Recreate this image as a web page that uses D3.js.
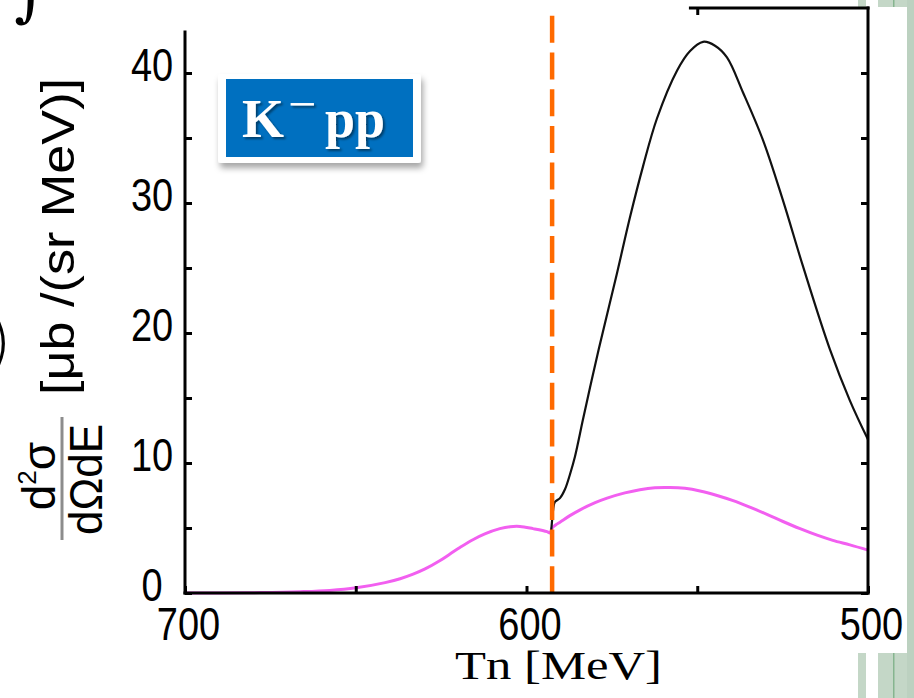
<!DOCTYPE html>
<html>
<head>
<meta charset="utf-8">
<script src="https://cdn.jsdelivr.net/npm/d3@7"></script>
<style>
  html, body { margin: 0; padding: 0; background: #fff; }
  svg { display: block; }
</style>
</head>
<body>
<svg id="chart" width="914" height="698"></svg>
<script>
// magenta curve (Tn in MeV, d2sigma in ub/(sr MeV))
const tnMagenta = [700, 689.8, 678.0, 666.3, 657.6, 649.9, 641.4, 637.0, 633.2, 629.7, 625.3, 622.4, 619.5, 615.7, 612.2,
  607.8, 604.8, 601.9, 598.1, 594.0, 593.1, 592.5, 591.4, 590.2, 587.3, 584.3, 579.9, 576.4, 571.2, 566.8, 562.4,
  558.0, 553.6, 549.2, 544.2, 539.5, 534.6, 529.6, 524.9, 519.9, 514.9, 510.3, 505.3, 500];
const dsMagenta = [0, 0, 0.03, 0.1, 0.2, 0.4, 0.8, 1.1, 1.45, 1.85, 2.5, 3.0, 3.5, 4.1, 4.55,
  4.95, 5.1, 5.12, 4.95, 4.72, 4.62, 5.0, 5.25, 5.45, 5.95, 6.4, 6.95, 7.3, 7.7, 7.95, 8.1,
  8.12, 8.05, 7.85, 7.5, 7.1, 6.6, 6.05, 5.5, 4.95, 4.45, 4.05, 3.7, 3.3];

// black curve, starts at the threshold
const tnBlack = [592.8, 592.5, 592.2, 591.7, 590.2, 588.7, 587.3, 585.8, 583.5, 581.4, 578.8, 573.5, 569.7, 565.9,
  561.8, 555.9, 552.1, 548.3, 544.8, 541.3, 536.6, 530.7, 524.9, 519.0, 511.1, 505.3, 500];
const dsBlack = [4.7, 5.6, 6.4, 7.0, 7.3, 8.0, 9.1, 10.5, 13.3, 15.8, 18.8, 24.6, 28.9, 32.8,
  36.5, 40.2, 41.7, 42.4, 42.1, 41.2, 38.5, 34.8, 30.2, 25.1, 18.7, 14.8, 11.8];

const xTickLabels = [700, 600, 500];
const xMinorTicks = [650, 550];
const xTopTicks = [550];
const yTickLabels = [0, 10, 20, 30, 40];
const yMinorTicks = [5, 15, 25, 35];
const thresholdTn = 592.5;

const xDomain = [700, 500];
const yDomain = [0, 45];
const leftAxisTop = 43.15;   // left spine is cut off above this value
const topSpineStart = 552;   // top spine only visible from here
const dashTop = 44.4;

const svg = d3.select('#chart');

// slide background pieces around the pasted plot
const bg = svg.append('g');
[[858, 866], [878, 907]].forEach(([a, b]) => {
  bg.append('rect').attr('x', a).attr('y', 0).attr('width', b - a).attr('height', 698).attr('fill', '#c4d7c7');
});
bg.append('rect').attr('x', 893).attr('y', 0).attr('width', 1.5).attr('height', 698).attr('fill', '#86b58f');
bg.append('rect').attr('x', 0).attr('y', 7).attr('width', 907).attr('height', 646).attr('fill', '#fff');
bg.append('rect').attr('x', 907).attr('y', 0).attr('width', 7).attr('height', 698).attr('fill', '#bcd1c0');

// leftovers from the slide
svg.append('text').attr('x', 14).attr('y', 14)
  .attr('font-family', 'DejaVu Serif').attr('font-style', 'italic').attr('font-size', 64)
  .text('∫');
svg.append('text').attr('x', -14).attr('y', 364)
  .attr('font-family', 'DejaVu Sans').attr('font-weight', 200).attr('font-size', 66)
  .text(')');

const x = d3.scaleLinear().domain(xDomain).range([185, 868]);
const y = d3.scaleLinear().domain(yDomain).range([593, 8]);

const defs = svg.append('defs');
defs.append('filter').attr('id', 'boxShadow').attr('x', '-20%').attr('y', '-20%').attr('width', '140%').attr('height', '160%')
  .append('feDropShadow').attr('dx', 2).attr('dy', 5).attr('stdDeviation', 3).attr('flood-color', '#000').attr('flood-opacity', 0.35);
defs.append('filter').attr('id', 'textShadow').attr('x', '-20%').attr('y', '-20%').attr('width', '140%').attr('height', '160%')
  .append('feDropShadow').attr('dx', 2).attr('dy', 2).attr('stdDeviation', 1).attr('flood-color', '#000').attr('flood-opacity', 0.45);

// curves
const line = d3.line().x((d) => x(d[0])).y((d) => y(d[1])).curve(d3.curveCatmullRom.alpha(0.5));

svg.append('path')
  .datum(d3.zip(tnMagenta, dsMagenta))
  .attr('d', line)
  .attr('fill', 'none')
  .attr('stroke', '#f25ff0')
  .attr('stroke-width', 3);

svg.append('path')
  .datum(d3.zip(tnBlack, dsBlack))
  .attr('d', line)
  .attr('fill', 'none')
  .attr('stroke', '#111')
  .attr('stroke-width', 2.2);

// threshold
svg.append('line')
  .attr('x1', x(thresholdTn)).attr('x2', x(thresholdTn))
  .attr('y1', y(dashTop)).attr('y2', y(0))
  .attr('stroke', '#ff6a00')
  .attr('stroke-width', 4.5)
  .attr('stroke-dasharray', '27 9.7');

// axes
const tickFont = (sel) => sel.attr('font-family', 'Liberation Sans, Arial, sans-serif').attr('font-size', 38).attr('fill', '#000');

const yAxis = svg.append('g')
  .attr('transform', `translate(${x(xDomain[0])},0)`)
  .call(d3.axisLeft(y).tickValues(yTickLabels.concat(yMinorTicks)).tickSize(-7)
    .tickFormat((d) => (yTickLabels.includes(d) ? d : '')));
yAxis.select('.domain').remove();
yAxis.selectAll('.tick line').attr('stroke', '#000').attr('stroke-width', 3);
yAxis.selectAll('.tick text').call(tickFont)
  .attr('text-anchor', 'middle').attr('x', -33).attr('dy', 0).attr('y', 6.25)
  .attr('transform', 'scale(1,1.2)');

const yRight = svg.append('g')
  .attr('transform', `translate(${x(xDomain[1])},0)`)
  .call(d3.axisRight(y).tickValues(yTickLabels.concat(yMinorTicks)).tickSize(-7).tickFormat(''));
yRight.select('.domain').remove();
yRight.selectAll('.tick line').attr('stroke', '#000').attr('stroke-width', 3);

const xAxis = svg.append('g')
  .attr('transform', `translate(0,${y(0)})`)
  .call(d3.axisBottom(x).tickValues(xTickLabels.concat(xMinorTicks)).tickSize(-7)
    .tickFormat((d) => (xTickLabels.includes(d) ? d : '')));
xAxis.select('.domain').remove();
xAxis.selectAll('.tick line').attr('stroke', '#000').attr('stroke-width', 3);
xAxis.selectAll('.tick text').call(tickFont)
  .attr('text-anchor', 'middle').attr('x', 3).attr('dy', 0).attr('y', 39.2)
  .attr('transform', 'scale(1,1.2)');

const xTop = svg.append('g')
  .attr('transform', `translate(0,${y(yDomain[1])})`)
  .call(d3.axisTop(x).tickValues(xTopTicks).tickSize(-7).tickFormat(''));
xTop.select('.domain').remove();
xTop.selectAll('.tick line').attr('stroke', '#000').attr('stroke-width', 3);

// frame
const frame = svg.append('g').attr('stroke', '#000').attr('stroke-width', 3).attr('stroke-linecap', 'square');
frame.append('line').attr('x1', x(700)).attr('x2', x(700)).attr('y1', y(leftAxisTop)).attr('y2', y(0));
frame.append('line').attr('x1', x(700)).attr('x2', x(500)).attr('y1', y(0)).attr('y2', y(0));
frame.append('line').attr('x1', x(500)).attr('x2', x(500)).attr('y1', y(0)).attr('y2', y(yDomain[1]));
frame.append('line').attr('x1', x(topSpineStart)).attr('x2', x(500)).attr('y1', y(yDomain[1])).attr('y2', y(yDomain[1]));

// x title
svg.append('text')
  .attr('x', 455).attr('y', 679)
  .attr('font-family', 'Liberation Serif, Times New Roman, serif')
  .attr('font-size', 40)
  .attr('textLength', 207)
  .attr('lengthAdjust', 'spacingAndGlyphs')
  .text('Tn [MeV]');

// y title
const sans = 'Liberation Sans, Arial, sans-serif';
svg.append('text')
  .attr('transform', 'translate(74,395) rotate(-90)')
  .attr('font-family', sans).attr('font-size', 46)
  .attr('textLength', 317).attr('lengthAdjust', 'spacingAndGlyphs')
  .text('[μb /(sr MeV)]');
svg.append('line')
  .attr('x1', 62).attr('x2', 62).attr('y1', 417).attr('y2', 540)
  .attr('stroke', '#8c8c8c').attr('stroke-width', 3);
svg.append('text')
  .attr('transform', 'translate(102,535) rotate(-90)')
  .attr('font-family', sans).attr('font-size', 46)
  .attr('textLength', 111).attr('lengthAdjust', 'spacingAndGlyphs')
  .text('dΩdE');
const num = svg.append('text')
  .attr('transform', 'translate(55,476) rotate(-90)')
  .attr('text-anchor', 'middle')
  .attr('font-family', sans).attr('font-size', 46);
num.append('tspan').text('d');
num.append('tspan').attr('font-size', 26).attr('dy', -19).text('2');
num.append('tspan').attr('dy', 19).text('σ');

// K-pp label
svg.append('rect').attr('x', 218).attr('y', 74).attr('width', 203).attr('height', 89).attr('rx', 3)
  .attr('fill', '#fff').attr('filter', 'url(#boxShadow)');
svg.append('rect').attr('x', 226).attr('y', 79).attr('width', 187).attr('height', 78).attr('fill', '#0070c0');
const label = svg.append('g')
  .attr('fill', '#fff')
  .attr('font-family', 'Liberation Serif, Times New Roman, serif')
  .attr('font-weight', 'bold')
  .attr('filter', 'url(#textShadow)');
label.append('text').attr('x', 242).attr('y', 137).attr('font-size', 54).text('K');
label.append('text').attr('x', 288).attr('y', 120.5).attr('font-size', 50).attr('font-weight', 'normal').text('−');
label.append('text').attr('x', 325).attr('y', 137).attr('font-size', 54).text('pp');
</script>
</body>
</html>
